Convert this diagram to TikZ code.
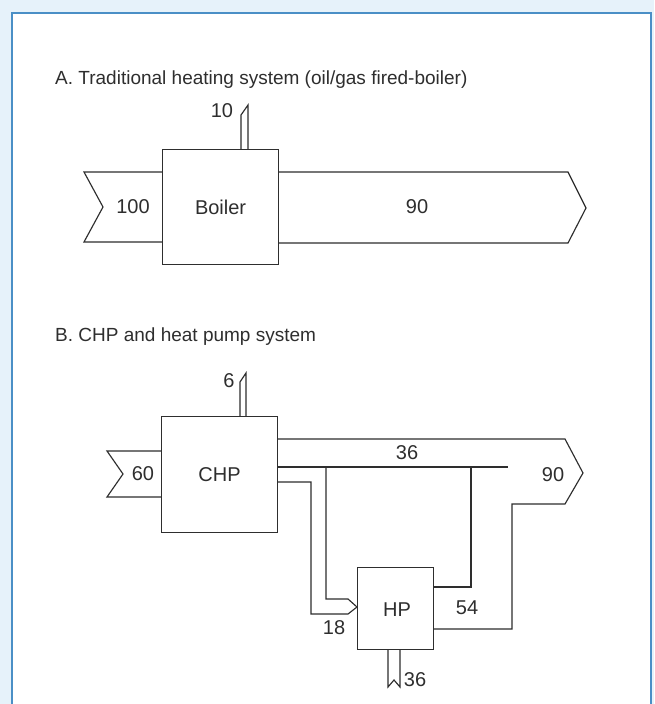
\documentclass[tikz,border=0pt]{standalone}
\usepackage{fontspec}
\setmainfont{Liberation Sans}
\definecolor{bgblue}{HTML}{E6F2FA}
\definecolor{frameblue}{HTML}{4A8FC6}
\definecolor{ink}{HTML}{2E2E2E}
\begin{document}
\begin{tikzpicture}[x=1pt,y=-1pt,
  flow/.style={draw=ink,line width=1.15pt,line join=miter,fill=white},
  lineonly/.style={draw=ink,line width=1.15pt,line join=miter},
  boxst/.style={draw=ink,line width=1.15pt,fill=white},
  lbl/.style={font=\fontsize{20}{24}\selectfont,text=ink,inner sep=0pt},
  ttl/.style={font=\fontsize{19}{24}\selectfont,text=ink,inner sep=0pt,anchor=west}]
\useasboundingbox (0,0) rectangle (654,704);
\fill[bgblue] (0,0) rectangle (654,704);
\begin{scope}
\clip (0,0) rectangle (654,704);
\draw[frameblue,line width=2pt,fill=white] (12,13) rectangle (651,720);
\end{scope}

% ---- A ----
\node[ttl] (titleA) at (55,80) {A. Traditional heating system (oil/gas fired-boiler)};
\draw[flow] (162,172)--(84,172)--(103,207)--(84,242)--(162,242);
\draw[flow] (278,172)--(568,172)--(586,208)--(568,243)--(278,243);
\draw[flow] (241,150)--(241,115)--(248,105)--(248,150);
\node[boxst,minimum width=116pt,minimum height=115pt,anchor=north west] (boiler) at (162,149) {};
\node[lbl] at (boiler.center) {Boiler};
\node[lbl] (in100) at (133,207) {100};
\node[lbl] (out90) at (417,207) {90};
\node[lbl] (s10) at (222,111) {10};

% ---- B ----
\node[ttl] (titleB) at (55,337) {B. CHP and heat pump system};
\draw[flow] (161,451)--(107,451)--(123,474)--(107,497)--(161,497);
\draw[flow] (240,417)--(240,382)--(246,373)--(246,417);
\draw[flow] (277,439)--(565,439)--(583,473)--(565,504)--(512,504)--(512,629)--(433,629);
\draw[lineonly] (277,467)--(508,467);
\draw[lineonly] (326,467)--(326,599)--(348,599)--(357,607)--(348,614)--(311,614)--(311,482)--(277,482);
\draw[lineonly] (433,587)--(471,587)--(471,467);
\draw[flow] (388,648)--(388,687)--(394,680)--(400,687)--(400,648);
\node[boxst,minimum width=116pt,minimum height=116pt,anchor=north west] (chp) at (161,416) {};
\node[boxst,minimum width=76pt,minimum height=82pt,anchor=north west] (hp) at (357,567) {};
\node[lbl] at (chp.center) {CHP};
\node[lbl] at (397,610) {HP};
\node[lbl] (in60) at (143,474) {60};
\node[lbl] (s6) at (229,381) {6};
\node[lbl] (f36) at (407,453) {36};
\node[lbl] (f90) at (553,475) {90};
\node[lbl] (f18) at (334,628) {18};
\node[lbl] (f54) at (467,608) {54};
\node[lbl] (a36) at (415,680) {36};
\end{tikzpicture}
\end{document}
